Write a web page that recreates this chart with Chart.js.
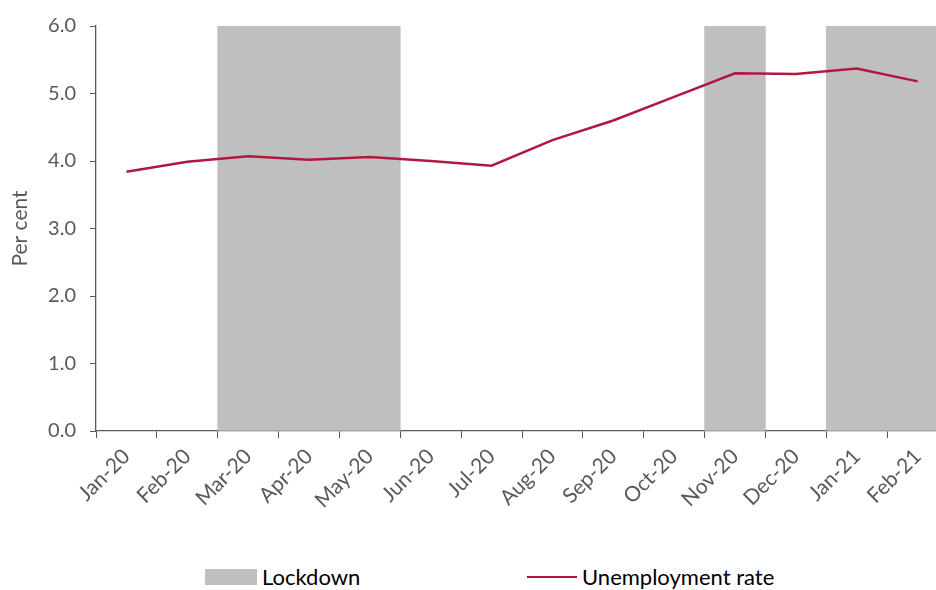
<!DOCTYPE html>
<html>
<head>
<meta charset="utf-8">
<script src="https://cdn.jsdelivr.net/npm/chart.js@4"></script>
<style>
  html, body { margin: 0; padding: 0; background: #fff; overflow: hidden; width: 936px; height: 590px; }
  #wrap { position: relative; width: 950px; height: 545px; }
  .legend { position: absolute; top: 566px; line-height: 22px; font-family: Lato, sans-serif; font-size: 22px; color: #000; display: flex; align-items: center; }
  .legend .sw { width: 52px; height: 16px; background: #bfbfbf; margin-right: 5px; }
  .legend .ln { width: 50px; height: 2.5px; background: #b0183f; margin-right: 5px; }
</style>
</head>
<body>
<div id="wrap"><canvas id="myChart" width="950" height="545"></canvas></div>
<div class="legend" style="left:205px"><div class="sw"></div>Lockdown</div>
<div class="legend" style="left:527px"><div class="ln"></div>Unemployment rate</div>
<script>
const months = ["Jan-20","Feb-20","Mar-20","Apr-20","May-20","Jun-20","Jul-20",
  "Aug-20","Sep-20","Oct-20","Nov-20","Dec-20","Jan-21","Feb-21"];
const unemployment = [3.84, 3.99, 4.07, 4.02, 4.06, 4.00, 3.93, 4.31, 4.60, 4.95, 5.30, 5.29, 5.37, 5.18];
const lockdown = [null, null, 6, 6, 6, null, null, null, null, null, 6, null, 6, 6];
const yTicks = [0, 1, 2, 3, 4, 5, 6];

const axisColor = "#595959";
const font = "Lato";

const myChart = document.getElementById("myChart");
const chart = new Chart(myChart, {
  type: "bar",
  data: {
    labels: months,
    datasets: [
      {
        type: "line",
        label: "Unemployment rate",
        data: unemployment,
        borderColor: "#b0183f",
        borderWidth: 2.5,
        pointRadius: 0,
        tension: 0,
        order: 0,
      },
      {
        label: "Lockdown",
        data: lockdown,
        backgroundColor: "#bfbfbf",
        barPercentage: 1,
        categoryPercentage: 1,
        order: 1,
      },
    ],
  },
  options: {
    responsive: false,
    animation: false,
    layout: { padding: { left: 0, right: 2, top: 25, bottom: 0 } },
    plugins: {
      legend: { display: false },
      tooltip: { enabled: false },
    },
    scales: {
      x: {
        offset: true,
        grid: {
          offset: true,
          drawOnChartArea: false,
          drawTicks: true,
          tickLength: 7,
          color: axisColor,
        },
        border: { color: axisColor, width: 1.3 },
        ticks: {
          color: axisColor,
          font: { family: font, size: 21 },
          maxRotation: 45,
          minRotation: 45,
          autoSkip: false,
          padding: 6,
        },
        afterFit(scale) { scale.height = 114; },
      },
      y: {
        min: 0,
        max: 6,
        afterBuildTicks(scale) { scale.ticks = yTicks.map(v => ({ value: v })); },
        grid: {
          drawOnChartArea: false,
          drawTicks: true,
          tickLength: 6,
          color: axisColor,
        },
        border: { color: axisColor, width: 1.3 },
        ticks: {
          color: axisColor,
          font: { family: font, size: 20 },
          padding: 14,
          callback: v => v.toFixed(1),
        },
        title: {
          display: true,
          text: "Per cent",
          color: axisColor,
          font: { family: font, size: 21 },
          padding: { top: 8, bottom: 0 },
        },
        afterFit(scale) { scale.width = 96; },
      },
    },
  },
});
</script>
</body>
</html>
